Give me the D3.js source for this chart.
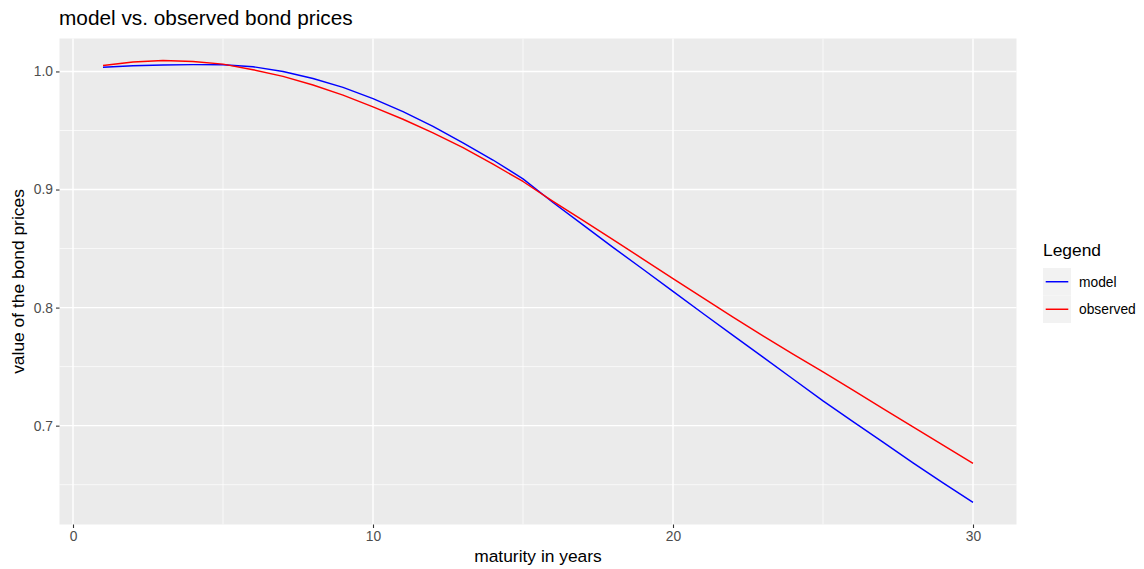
<!DOCTYPE html>
<html>
<head>
<meta charset="utf-8">
<script src="https://cdn.jsdelivr.net/npm/d3@7"></script>
<style>
  body { margin: 0; background: #fff; }
  text { font-family: "Liberation Sans", Arial, sans-serif; }
</style>
</head>
<body>
<svg id="chart" width="1144" height="569"></svg>
<script>
// maturities in years
const maturities = d3.range(1, 31);

// observed bond prices
const observed = [
    1.0050, 1.0080, 1.0092, 1.0085, 1.0062, 1.0015, 0.9958, 0.9885, 0.9800, 0.9700,
    0.9595, 0.9480, 0.9355, 0.9215, 0.9068, 0.8900, 0.8738, 0.8576, 0.8411, 0.8246,
    0.8082, 0.7920, 0.7760, 0.7605, 0.7455, 0.7300, 0.7145, 0.6990, 0.6835, 0.6680
];

// model bond prices
const model = [
    1.0035, 1.0048, 1.0055, 1.0058, 1.0057, 1.0040, 1.0000, 0.9940, 0.9865, 0.9770,
    0.9660, 0.9535, 0.9395, 0.9250, 0.9090, 0.8890, 0.8700, 0.8510, 0.8325, 0.8138,
    0.7950, 0.7765, 0.7580, 0.7395, 0.7210, 0.7035, 0.6860, 0.6685, 0.6515, 0.6350
];

const seriesNames = ["model", "observed"];
const seriesColors = ["#0000FF", "#FF0000"];
const xTicks = [0, 10, 20, 30];
const xMinor = [5, 15, 25];
const yTicks = [0.7, 0.8, 0.9, 1.0];
const yMinor = [0.65, 0.75, 0.85, 0.95];

const svg = d3.select("#chart");
const panel = { left: 59.5, right: 1016.5, top: 38.5, bottom: 524.5 };

// ggplot-style 5% expansion
const expand = (ext) => {
    const pad = (ext[1] - ext[0]) * 0.05;
    return [ext[0] - pad, ext[1] + pad];
};

const x = d3.scaleLinear()
    .domain(expand(d3.extent(maturities)))
    .range([panel.left, panel.right]);

const y = d3.scaleLinear()
    .domain(expand(d3.extent(observed.concat(model))))
    .range([panel.bottom, panel.top]);

// panel background
svg.append("rect")
    .attr("x", panel.left)
    .attr("y", panel.top)
    .attr("width", panel.right - panel.left)
    .attr("height", panel.bottom - panel.top)
    .attr("fill", "#EBEBEB");

const grid = svg.append("g");

grid.selectAll(".yminor")
    .data(yMinor)
    .enter()
    .append("line")
    .attr("x1", panel.left)
    .attr("x2", panel.right)
    .attr("y1", (d) => y(d))
    .attr("y2", (d) => y(d))
    .attr("stroke", "#fff")
    .attr("stroke-width", 0.7);

grid.selectAll(".xminor")
    .data(xMinor)
    .enter()
    .append("line")
    .attr("x1", (d) => x(d))
    .attr("x2", (d) => x(d))
    .attr("y1", panel.top)
    .attr("y2", panel.bottom)
    .attr("stroke", "#fff")
    .attr("stroke-width", 0.7);

grid.selectAll(".ymajor")
    .data(yTicks)
    .enter()
    .append("line")
    .attr("x1", panel.left)
    .attr("x2", panel.right)
    .attr("y1", (d) => y(d))
    .attr("y2", (d) => y(d))
    .attr("stroke", "#fff")
    .attr("stroke-width", 1.4);

grid.selectAll(".xmajor")
    .data(xTicks)
    .enter()
    .append("line")
    .attr("x1", (d) => x(d))
    .attr("x2", (d) => x(d))
    .attr("y1", panel.top)
    .attr("y2", panel.bottom)
    .attr("stroke", "#fff")
    .attr("stroke-width", 1.4);

// axes
const xAxis = svg.append("g")
    .attr("transform", `translate(0,${panel.bottom})`)
    .call(d3.axisBottom(x).tickValues(xTicks).tickSize(3.5).tickPadding(3).tickFormat(d3.format("d")));

const yAxis = svg.append("g")
    .attr("transform", `translate(${panel.left},0)`)
    .call(d3.axisLeft(y).tickValues(yTicks).tickSize(3.5).tickPadding(3).tickFormat(d3.format(".1f")));

[xAxis, yAxis].forEach((ax) => {
    ax.select(".domain").remove();
    ax.selectAll(".tick line").attr("stroke", "#333333").attr("stroke-width", 1.1);
    ax.selectAll(".tick text")
        .attr("fill", "#4D4D4D")
        .style("font-size", "13.8px")
        .style("font-family", "Liberation Sans, Arial, sans-serif");
});

// lines
const line = d3.line()
    .x((d, i) => x(maturities[i]))
    .y((d) => y(d));

[model, observed].forEach((values, i) => {
    svg.append("path")
        .datum(values)
        .attr("d", line)
        .attr("fill", "none")
        .attr("stroke", seriesColors[i])
        .attr("stroke-width", 1.45)
        .attr("stroke-linejoin", "round");
});

// titles
svg.append("text")
    .attr("x", 59)
    .attr("y", 25)
    .style("font-size", "20.8px")
    .attr("fill", "#000")
    .text("model vs. observed bond prices");

svg.append("text")
    .attr("x", (panel.left + panel.right) / 2)
    .attr("y", 562)
    .attr("text-anchor", "middle")
    .style("font-size", "17.4px")
    .attr("fill", "#000")
    .text("maturity in years");

svg.append("text")
    .attr("transform", `translate(24,${(panel.top + panel.bottom) / 2}) rotate(-90)`)
    .attr("text-anchor", "middle")
    .style("font-size", "17.4px")
    .attr("fill", "#000")
    .text("value of the bond prices");

// legend
const legend = svg.append("g").attr("transform", "translate(1043,0)");

legend.append("text")
    .attr("x", 0)
    .attr("y", 256)
    .style("font-size", "17.4px")
    .attr("fill", "#000")
    .text("Legend");

const key = legend.selectAll(".key")
    .data(seriesNames)
    .enter()
    .append("g")
    .attr("transform", (d, i) => `translate(0,${268 + i * 27.5})`);

key.append("rect")
    .attr("width", 28)
    .attr("height", 27.5)
    .attr("fill", "#F2F2F2");

key.append("line")
    .attr("x1", 2.7)
    .attr("x2", 25.3)
    .attr("y1", 13.75)
    .attr("y2", 13.75)
    .attr("stroke", (d, i) => seriesColors[i])
    .attr("stroke-width", 1.45);

key.append("text")
    .attr("x", 36)
    .attr("y", 13.75)
    .attr("dy", "0.35em")
    .style("font-size", "13.8px")
    .attr("fill", "#000")
    .text((d) => d);
</script>
</body>
</html>
